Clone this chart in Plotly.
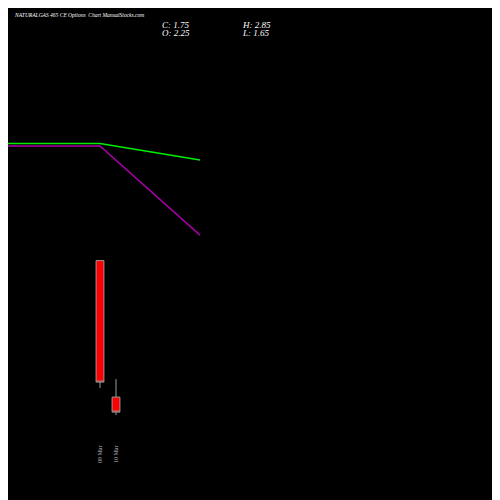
import plotly.graph_objects as go

dates = ["09 Mar", "10 Mar"]
opens = [6.8, 2.25]
highs = [6.8, 2.85]
lows = [2.55, 1.65]
closes = [2.75, 1.75]
line_x = [0, 1, 2]
ma_purple = [10.62, 10.62, 7.65]
ma_green = [10.7, 10.7, 10.15]

fig = go.Figure()
fig.add_trace(go.Candlestick(x=[0, 1], open=opens, high=highs, low=lows, close=closes,
    increasing=dict(line=dict(color="#999999", width=1), fillcolor="#00ff00"),
    decreasing=dict(line=dict(color="#999999", width=1), fillcolor="#ff0000"),
    whiskerwidth=0, showlegend=False))
fig.add_trace(go.Scatter(x=line_x, y=ma_purple, xaxis="x2", mode="lines",
    line=dict(color="#aa00aa", width=1.5), showlegend=False))
fig.add_trace(go.Scatter(x=line_x, y=ma_green, xaxis="x2", mode="lines",
    line=dict(color="#00ee00", width=1.5), showlegend=False))

for i, d in enumerate(dates):
    fig.add_annotation(x=i, y=0.071, xref="x", yref="paper", text=d, textangle=-90,
        showarrow=False, font=dict(family="Liberation Serif", size=6, color="#bbbbbb"))

sf = dict(family="Liberation Serif", color="white")
fig.add_annotation(x=0.008, y=0.986, xref="paper", yref="paper", xanchor="left", yanchor="middle",
    text="<i>NATURALGAS 465 CE Options  Chart ManualStocks.com</i>", showarrow=False, font=dict(size=5.5, **sf))
fig.add_annotation(x=0.309, y=0.965, xref="paper", yref="paper", xanchor="left", yanchor="middle",
    text="<i>C: 1.75</i>", showarrow=False, font=dict(size=9, **sf))
fig.add_annotation(x=0.309, y=0.949, xref="paper", yref="paper", xanchor="left", yanchor="middle",
    text="<i>O: 2.25</i>", showarrow=False, font=dict(size=9, **sf))
fig.add_annotation(x=0.472, y=0.965, xref="paper", yref="paper", xanchor="left", yanchor="middle",
    text="<i>H: 2.85</i>", showarrow=False, font=dict(size=9, **sf))
fig.add_annotation(x=0.472, y=0.949, xref="paper", yref="paper", xanchor="left", yanchor="middle",
    text="<i>L: 1.65</i>", showarrow=False, font=dict(size=9, **sf))

fig.update_layout(
    width=492, height=492, margin=dict(l=0, r=0, t=0, b=0),
    paper_bgcolor="black", plot_bgcolor="black",
    xaxis=dict(range=[-5.75, 25], visible=False, rangeslider=dict(visible=False)),
    xaxis2=dict(range=[0.08, 5], overlaying="x", visible=False),
    yaxis=dict(range=[-1.18, 15.22], visible=False),
)
fig.write_html("out.html")
